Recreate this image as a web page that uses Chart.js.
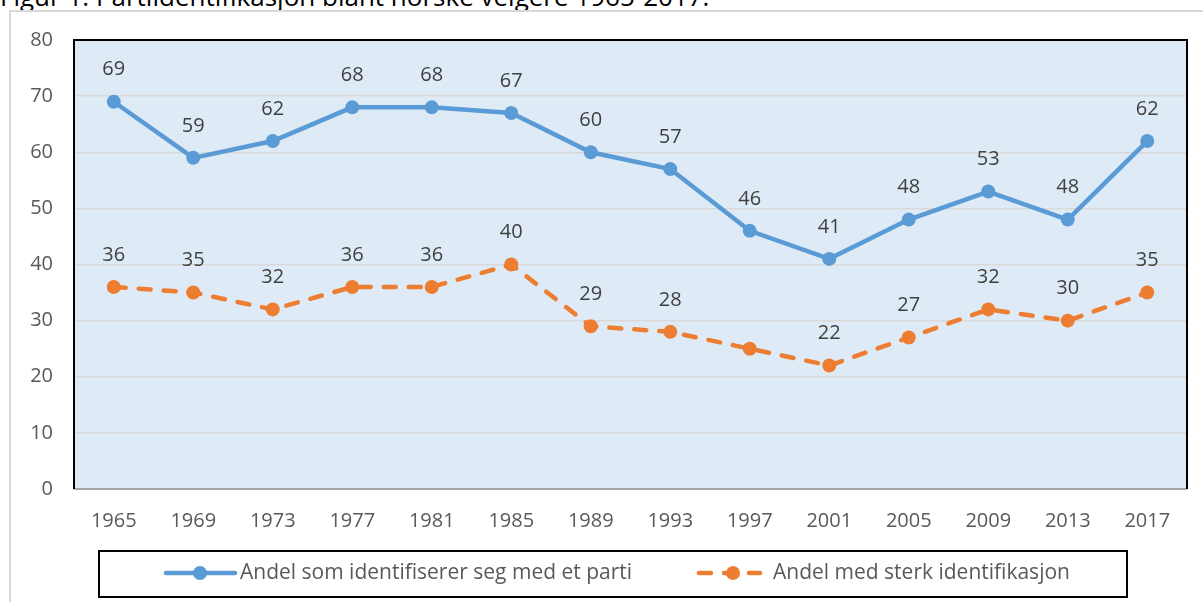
<!DOCTYPE html>
<html>
<head>
<meta charset="utf-8">
<script src="https://cdn.jsdelivr.net/npm/chart.js@4"></script>
<style>
  body { margin: 0; background: #fff; overflow: hidden; }
  #wrap { position: relative; width: 1203px; height: 602px; overflow: hidden; }
  #frame { position: absolute; left: 9px; top: 10px; width: 1210px; height: 610px;
           border-left: 2px solid #d9d9d9; border-top: 2px solid #d9d9d9; }
  #title { position: absolute; left: 0; top: -17px; font: 26px 'Open Sans', sans-serif;
           line-height: 26px; color: #000; white-space: nowrap; }
  canvas { position: absolute; left: 0; top: 0; }
</style>
</head>
<body>
<div id="wrap">
  <div id="title">Figur 1. Partiidentifikasjon blant norske velgere 1965-2017.</div>
  <div id="frame"></div>
  <canvas id="partiChart" width="1203" height="602"></canvas>
</div>
<script>
var years = ['1965', '1969', '1973', '1977', '1981', '1985', '1989',
             '1993', '1997', '2001', '2005', '2009', '2013', '2017'];
var andelParti = [69, 59, 62, 68, 68, 67, 60, 57, 46, 41, 48, 53, 48, 62];
var andelSterk = [36, 35, 32, 36, 36, 40, 29, 28, 25, 22, 27, 32, 30, 35];
// the 1997 value of the second series has no label in the original
var sterkLabels = ['36', '35', '32', '36', '36', '40', '29', '28', '', '22', '27', '32', '30', '35'];
var partiLabels = andelParti.map(String);

var FONT = "'Open Sans', sans-serif";
var BLUE = '#5B9BD5';
var ORANGE = '#ED7D31';
var DASH = [12, 13];

var plotArea = {
    id: 'plotArea',
    beforeDraw: function(chart) {
        var a = chart.chartArea, c = chart.ctx;
        c.save();
        c.fillStyle = '#DEEBF7';
        c.fillRect(a.left, a.top, a.right - a.left, a.bottom - a.top);
        c.restore();
    },
    beforeDatasetsDraw: function(chart) {
        var a = chart.chartArea, c = chart.ctx;
        c.save();
        c.strokeStyle = '#A6A6A6';
        c.lineWidth = 2;
        c.beginPath();
        c.moveTo(a.left, a.bottom);
        c.lineTo(a.right, a.bottom);
        c.stroke();
        c.strokeStyle = '#000';
        c.beginPath();
        c.moveTo(a.left, a.bottom);
        c.lineTo(a.left, a.top);
        c.lineTo(a.right, a.top);
        c.lineTo(a.right, a.bottom);
        c.stroke();
        c.restore();
    }
};

var valueLabels = {
    id: 'valueLabels',
    afterDatasetsDraw: function(chart) {
        var c = chart.ctx;
        var texts = [partiLabels, sterkLabels];
        c.save();
        c.font = '20px ' + FONT;
        c.fillStyle = '#404040';
        c.textAlign = 'center';
        c.textBaseline = 'middle';
        chart.data.datasets.forEach(function(ds, i) {
            chart.getDatasetMeta(i).data.forEach(function(pt, j) {
                if (texts[i][j]) c.fillText(texts[i][j], pt.x, pt.y - 32);
            });
        });
        c.restore();
    }
};

var boxLegend = {
    id: 'boxLegend',
    afterDraw: function(chart) {
        var c = chart.ctx;
        var y = 573;
        c.save();
        c.strokeStyle = '#000';
        c.lineWidth = 2;
        c.strokeRect(99, 551, 1028, 46);

        c.lineCap = 'round';
        c.lineWidth = 4.5;
        c.strokeStyle = BLUE;
        c.beginPath();
        c.moveTo(166, y);
        c.lineTo(235, y);
        c.stroke();
        c.fillStyle = BLUE;
        c.beginPath();
        c.arc(200, y, 7, 0, Math.PI * 2);
        c.fill();

        c.strokeStyle = ORANGE;
        c.setLineDash(DASH);
        c.beginPath();
        c.moveTo(699, y);
        c.lineTo(760, y);
        c.stroke();
        c.setLineDash([]);
        c.fillStyle = ORANGE;
        c.beginPath();
        c.arc(733, y, 7, 0, Math.PI * 2);
        c.fill();

        c.font = '21px ' + FONT;
        c.fillStyle = '#595959';
        c.textBaseline = 'middle';
        c.fillText(chart.data.datasets[0].label, 240, y);
        c.fillText(chart.data.datasets[1].label, 773, y);
        c.restore();
    }
};

var ctx = document.getElementById('partiChart').getContext('2d');
var partiChart = new Chart(ctx, {
    type: 'line',
    data: {
        labels: years,
        datasets: [{
            label: 'Andel som identifiserer seg med et parti',
            data: andelParti,
            borderColor: BLUE,
            backgroundColor: BLUE,
            borderWidth: 4.5,
            borderCapStyle: 'round',
            pointRadius: 7,
            pointBorderWidth: 0,
            pointBackgroundColor: BLUE,
            tension: 0
        }, {
            label: 'Andel med sterk identifikasjon',
            data: andelSterk,
            borderColor: ORANGE,
            backgroundColor: ORANGE,
            borderWidth: 4.5,
            borderDash: DASH,
            borderCapStyle: 'round',
            pointRadius: 7,
            pointBorderWidth: 0,
            pointBackgroundColor: ORANGE,
            tension: 0
        }]
    },
    options: {
        responsive: false,
        animation: false,
        layout: { padding: { top: 40, right: 16, left: 0, bottom: 0 } },
        plugins: {
            legend: { display: false },
            tooltip: { enabled: false }
        },
        scales: {
            x: {
                offset: true,
                grid: { display: false, drawTicks: false },
                border: { display: false },
                ticks: {
                    color: '#595959',
                    font: { family: FONT, size: 20 },
                    padding: 20,
                    maxRotation: 0,
                    autoSkip: false
                },
                afterFit: function(s) { s.height = 113; }
            },
            y: {
                min: 0,
                max: 80,
                grid: { color: '#D9D9D9', lineWidth: 1.5, drawTicks: false },
                border: { display: false },
                ticks: {
                    stepSize: 10,
                    color: '#595959',
                    font: { family: FONT, size: 20 },
                    padding: 21
                },
                afterFit: function(s) { s.width = 74; }
            }
        }
    },
    plugins: [plotArea, valueLabels, boxLegend]
});
</script>
</body>
</html>
